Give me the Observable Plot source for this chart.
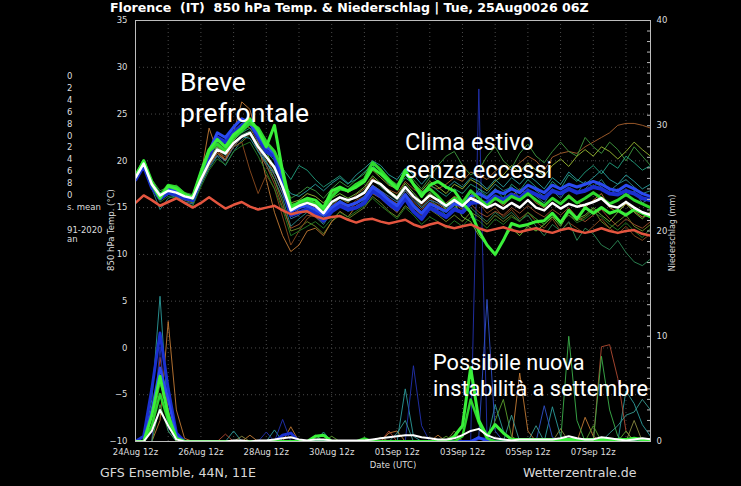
<!DOCTYPE html>
<html><head><meta charset="utf-8">
<script src="https://cdn.jsdelivr.net/npm/d3@7"></script>
<script src="https://cdn.jsdelivr.net/npm/@observablehq/plot@0.6"></script>
<style>
html,body{margin:0;padding:0;background:#000;}
#wrap{position:relative;width:741px;height:486px;background:#000;overflow:hidden;font-family:"DejaVu Sans",sans-serif;}
#wrap svg{position:absolute;left:0;top:0;}
.t{position:absolute;white-space:nowrap;color:#ddd;}
.ann{position:absolute;white-space:pre;font-family:Roboto,sans-serif;color:#fff;}
</style></head><body>
<div id="wrap"></div>
<script>
// ---------- time axis: 6-hourly steps from 24 Aug 12z ----------
const startTime = Date.UTC(2026, 7, 24, 12);
const stepHours = 6;
const xTickDays = [0, 2, 4, 6, 8, 10, 12, 14];          // labelled ticks (every 2 days, 12z)
const gridDays = [1,2,3,4,5,6,7,8,9,10,11,12,13,14,15]; // dotted daily grid
const tempTicks = [-10, -5, 0, 5, 10, 15, 20, 25, 30, 35];
const precipLabelTicks = [0, 10, 20, 30, 40];

// ---------- 850 hPa temperature (°C) ----------
const ensMean = [18.2,19.7,17.5,16.3,16.8,16.6,16.2,16.0, 18.0,19.8,21.2,20.8,21.9,22.6,23.0,21.5,
  20.4,19.3,17.2,14.7,15.2,15.5,15.2,14.4, 15.6,16.1,15.8,16.1,16.6,17.9,17.5,16.7,
  16.0,17.2,16.2,15.5,16.3,15.8,15.2,15.8, 15.2,16.0,15.6,15.0,15.4,14.9,15.5,15.0,
  15.8,15.0,14.7,15.5,14.9,15.4,15.1,15.3, 15.6,16.0,15.2,15.0,15.6,15.0,14.5,14.2];
const climMean = [15.5,16.3,15.8,15.2,15.6,16.0,15.5,15.0, 15.5,16.1,15.5,14.9,15.3,15.6,15.1,14.8,
  15.0,15.2,14.7,14.3,14.5,14.6,14.1,13.8, 14.0,14.1,13.7,13.4,13.7,13.8,13.5,13.3,
  13.5,13.7,13.2,12.9,13.2,13.4,13.0,12.8, 13.0,13.2,12.8,12.5,12.7,12.9,12.6,12.4,
  12.6,12.8,12.5,12.3,12.6,12.8,12.5,12.3, 12.5,12.8,12.5,12.3,12.5,12.6,12.2,12.0];
const greenOp = [18.3,20.0,17.5,16.0,17.3,17.0,16.3,16.2, 18.8,21.2,22.3,21.5,22.8,23.5,24.5,23.2,
  21.5,23.8,18.8,14.8,15.6,16.0,15.8,15.0, 16.8,17.2,16.8,17.2,17.8,19.2,18.6,17.8,
  17.0,19.0,17.5,16.2,17.4,17.8,17.2,16.8, 15.5,14.5,12.5,11.0,10.0,11.5,13.3,13.0,
  13.2,13.5,13.6,14.4,13.4,14.7,13.8,15.0, 14.4,15.0,14.4,14.7,14.2,14.8,14.4,14.0];
const greenCtl = [18.4,20.0,17.8,16.2,17.4,17.2,16.5,16.0, 18.6,21.0,21.8,21.0,22.5,23.2,24.0,23.5,
  22.0,21.0,19.0,15.2,15.5,15.8,15.4,14.8, 16.2,17.0,16.8,17.5,18.0,19.8,19.0,18.0,
  17.2,18.8,17.5,16.5,17.0,16.2,15.2,16.0, 15.5,16.8,16.0,15.2,16.0,15.5,16.2,15.8,
  16.5,15.8,15.2,16.0,15.4,16.2,15.5,16.0, 16.6,16.0,15.4,15.8,16.4,15.8,15.4,15.0];
const blueA = [18.0,19.5,17.2,16.0,16.6,16.4,16.0,15.8, 18.3,20.5,22.5,22.0,23.0,23.8,24.2,22.5,
  21.0,20.5,17.5,14.2,14.5,14.8,14.4,13.6, 14.6,15.2,14.8,15.0,15.5,16.8,16.2,15.4,
  14.8,16.0,14.6,13.8,15.0,14.5,14.0,14.8, 14.5,15.5,15.6,15.5,16.2,15.8,16.4,16.0,
  16.8,16.4,16.0,16.8,16.5,17.0,16.6,16.8, 17.2,17.0,16.5,16.4,16.8,16.5,16.0,15.8];
const blueB = [18.3,19.8,17.6,16.2,16.9,16.8,16.4,16.1, 18.5,21.0,23.0,22.5,23.6,24.5,24.0,22.8,
  21.5,20.8,18.5,14.6,15.0,15.2,14.8,14.2, 15.0,15.6,15.2,15.5,16.0,17.2,16.6,15.8,
  15.2,16.4,15.2,14.4,15.4,15.0,14.6,15.4, 15.2,16.2,16.5,16.0,16.8,16.5,17.0,16.6,
  17.4,17.0,16.6,17.4,17.0,17.5,17.2,17.5, 17.8,17.5,17.0,16.8,17.4,17.0,16.5,16.2];
const ens01 = [18.0,19.5,17.2,16.0,16.5,16.9,16.0,15.6, 17.8,20.2,21.5,20.0,22.5,24.0,23.5,22.0,
  20.5,18.5,16.5,14.2,14.8,15.5,15.0,14.2, 15.2,16.0,15.5,16.4,17.0,18.2,17.4,16.9,
  16.5,17.8,17.0,16.4,17.3,17.0,17.5,18.2, 17.8,18.8,18.5,18.0,18.9,19.5,19.0,19.8,
  20.5,20.0,19.0,20.4,20.8,21.0,20.8,21.5, 22.0,22.5,23.0,23.8,24.0,24.0,23.8,23.5];
const ens02 = [18.5,20.0,18.0,16.8,17.2,17.4,16.6,16.4, 18.6,20.5,22.0,21.2,23.0,24.0,24.5,23.0,
  22.0,21.0,18.5,16.0,16.5,17.2,16.8,16.0, 17.0,17.8,17.2,18.0,18.6,20.0,19.2,18.0,
  17.5,19.0,18.0,17.0,18.2,19.5,20.5,21.0, 19.5,18.5,19.0,20.5,21.5,20.0,19.2,20.8,
  21.8,20.5,19.8,21.0,22.0,21.0,20.5,22.5, 21.5,20.8,22.0,21.2,20.0,21.5,20.5,19.5];
const ens03 = [18.0,19.6,17.0,14.8,16.0,16.3,15.4,15.2, 17.5,19.2,20.5,19.5,21.0,22.2,23.0,21.0,
  19.5,18.0,16.0,13.0,13.8,14.5,14.0,13.2, 14.5,15.2,14.6,15.0,15.8,17.0,16.2,15.4,
  15.0,16.2,15.4,14.5,15.5,15.0,14.2,15.0, 14.5,15.5,17.0,16.5,17.5,16.8,17.2,16.0,
  17.0,16.2,15.5,16.8,16.0,17.2,16.5,17.8, 17.2,18.0,16.8,17.5,18.0,17.2,16.5,16.8];
const ens04 = [18.3,19.8,17.6,16.2,16.5,16.2,15.8,15.5, 17.6,19.5,20.8,20.0,21.5,22.0,22.8,21.5,
  20.0,18.0,15.5,12.5,12.8,13.5,13.0,12.2, 13.5,14.2,13.8,14.4,15.0,16.2,15.5,14.6,
  14.0,15.2,14.5,13.8,14.8,14.2,13.5,14.2, 13.5,14.5,14.0,13.2,14.2,13.5,14.2,13.5,
  14.5,13.8,13.2,14.0,13.5,14.2,13.6,14.0, 14.8,13.5,12.8,13.5,14.2,13.0,12.5,13.2];
const ens05 = [17.8,19.4,17.3,16.5,16.6,16.8,16.4,15.8, 18.4,23.5,21.0,20.0,23.0,26.3,25.5,22.0,
  18.0,14.5,12.0,10.3,11.0,12.5,12.8,12.0, 13.5,14.6,14.0,15.2,15.6,16.5,16.0,15.2,
  14.5,15.8,15.0,14.2,15.0,14.8,15.5,16.2, 15.8,16.5,15.5,15.0,16.0,15.2,16.2,17.0,
  16.5,15.5,15.0,16.0,15.5,16.4,15.6,15.0, 15.8,16.5,15.0,14.5,15.4,14.6,14.0,14.4];
const ens06 = [18.1,19.5,17.4,16.0,16.8,16.5,16.0,15.8, 17.8,19.6,21.0,20.4,21.5,22.0,19.0,16.5,
  18.5,17.0,14.0,11.0,12.5,13.8,14.5,13.6, 14.8,15.5,15.0,15.8,16.2,17.4,16.8,16.0,
  15.4,16.8,16.0,15.2,16.0,15.4,14.8,15.6, 15.0,16.2,15.5,14.4,15.0,14.0,14.8,13.8,
  14.5,13.5,12.8,13.8,12.5,13.4,12.8,12.2, 13.0,13.8,12.8,12.2,13.0,12.0,11.5,12.2];
const ens07 = [18.4,19.9,17.8,16.6,17.0,16.8,16.4,16.2, 18.2,20.0,21.6,21.0,22.2,23.0,23.5,22.5,
  21.0,20.0,19.2,18.0,19.5,19.0,18.0,17.2, 17.8,18.4,17.6,18.0,18.8,19.5,18.6,17.5,
  17.0,18.2,17.5,16.6,17.5,16.8,16.2,17.0, 16.5,17.5,17.0,16.2,17.0,16.0,17.5,16.8,
  18.0,17.2,16.5,17.8,17.0,18.5,17.8,18.8, 19.5,18.6,19.8,19.2,20.5,19.8,19.0,19.5];
const ens08 = [18.2,19.7,17.5,16.1,16.6,16.4,16.0,15.6, 17.9,19.8,21.2,20.6,22.0,22.8,23.2,21.8,
  20.6,19.5,17.0,14.0,14.5,15.0,14.8,14.0, 15.4,16.0,15.6,16.2,16.8,18.0,17.2,16.5,
  15.8,17.0,16.2,15.0,15.8,15.2,14.5,15.2, 14.4,15.0,14.2,13.5,14.5,13.8,14.5,13.6,
  14.2,13.0,12.0,13.2,12.5,13.5,11.5,12.8, 12.2,11.0,10.5,11.5,10.2,9.2,8.8,9.5];
const ens09 = [18.0,19.6,17.4,16.0,16.4,16.6,16.2,15.9, 18.2,20.6,21.8,21.2,22.6,23.5,24.0,22.8,
  21.0,19.0,17.5,15.0,15.2,15.8,15.5,14.8, 16.0,16.5,16.0,16.5,17.2,18.4,17.6,16.8,
  16.2,17.6,16.6,15.6,16.6,15.8,14.8,15.5, 14.0,13.5,12.0,11.0,10.0,11.5,12.8,12.0,
  13.0,12.5,13.2,14.0,13.0,14.5,13.8,14.2, 15.0,14.2,13.5,14.5,15.5,14.5,13.8,14.6];
const ens10 = [18.2,19.7,17.3,15.8,16.4,16.2,15.6,15.4, 17.5,19.4,20.6,20.0,21.5,22.5,23.0,21.5,
  19.8,18.5,16.5,13.8,14.2,15.0,14.6,13.8, 15.0,15.8,15.2,15.6,16.2,17.4,16.8,16.2,
  15.6,16.8,15.8,15.0,15.8,15.5,15.0,15.6, 15.0,16.0,16.8,16.0,17.0,16.4,17.2,16.5,
  17.5,16.8,16.2,17.0,16.4,17.2,16.6,17.0, 17.8,17.2,16.5,17.0,16.2,16.8,15.5,16.0];
const ens11 = [18.3,19.8,17.7,16.4,17.0,17.0,16.5,16.2, 18.5,20.2,21.5,20.8,22.2,23.2,24.2,23.0,
  21.5,20.5,18.0,15.5,15.8,16.5,16.2,15.5, 16.5,17.2,16.6,17.2,17.8,19.0,18.2,17.4,
  17.0,18.5,17.6,16.8,17.8,17.2,16.5,17.5, 17.0,18.0,17.5,16.8,17.8,18.5,19.5,18.8,
  19.8,19.0,18.4,19.5,20.2,19.4,20.5,21.2, 20.5,21.5,21.0,20.2,21.0,22.0,21.2,20.5];
const ens12 = [18.0,19.5,17.6,16.3,16.7,16.5,16.0,15.7, 17.8,19.5,20.8,20.2,21.6,22.5,23.0,21.2,
  19.5,17.5,15.0,12.8,13.2,14.2,14.0,13.4, 14.6,15.4,14.8,15.4,16.0,17.0,16.5,15.8,
  15.4,16.4,15.6,14.8,15.6,15.2,14.6,15.4, 14.8,15.4,14.5,14.0,14.6,14.2,15.0,14.4,
  15.2,14.5,14.0,14.8,14.2,15.0,14.0,13.5, 14.2,14.8,13.8,13.0,13.8,13.2,12.8,13.5];
const ens13 = [18.2,19.6,17.6,16.4,16.9,16.7,16.3,16.1, 18.0,19.9,21.4,20.6,21.8,22.6,22.4,21.0,
  19.8,18.8,17.8,16.5,16.2,16.8,17.5,16.8, 17.6,18.2,17.5,18.5,19.2,20.0,19.5,18.5,
  18.0,19.2,18.5,17.5,18.5,17.8,17.0,17.8, 17.2,18.2,17.8,17.0,18.0,17.2,18.2,17.5,
  18.5,17.8,17.0,18.2,17.5,18.8,18.0,17.5, 18.2,19.0,18.0,17.5,18.5,17.8,17.0,17.5];
const ens14 = [18.1,19.5,17.0,15.6,16.2,16.0,15.5,15.2, 17.2,19.0,20.2,19.6,21.0,21.6,22.0,20.5,
  18.8,17.0,14.8,12.0,12.5,13.0,13.5,12.8, 13.8,14.5,14.0,14.6,15.2,16.0,15.2,14.5,
  13.8,15.0,14.2,13.2,14.0,13.5,12.8,13.6, 13.0,14.0,13.6,12.8,13.8,13.2,14.0,13.5,
  14.5,13.8,13.2,14.2,13.5,14.2,13.4,13.8, 14.5,14.0,13.2,12.6,13.4,12.5,11.8,12.8];

// ---------- precipitation (mm / 6h) ----------
const prMean = [0,0,1.0,3.0,1.5,0.2,0,0, 0,0,0,0,0.1,0.1,0,0.1, 0.1,0.2,0.3,0.4,0.2,0.1,0.2,0.2, 0.1,0.1,0.1,0.1,0.1,0.2,0.3,0.4,
  0.5,0.6,0.6,0.4,0.3,0.2,0.2,0.3, 0.6,1.0,1.2,0.6,0.3,0.2,0.1,0.2, 0.2,0.2,0.2,0.2,0.3,0.5,0.3,0.2, 0.2,0.4,0.3,0.2,0.1,0.2,0.3,0.2];
const prGreenOp = [0,0,2.5,6.2,2.5,0.3,0,0, 0,0,0,0,0,0,0,0, 0,0,0,0,0,0,0.5,0.6, 0,0,0,0,0,0,0,0,
  0,0,0,0,0,0,0,0.5, 1.5,7.0,2.0,0.5,1.6,0.8,0.2,0.2, 0.2,0.2,0.2,0.2,0.2,0.2,0.2,0.2, 0.2,0.2,0.2,0.2,0.2,0.3,0.2,0.2];
const prGreenCtl = [0,0,1.5,4.5,2.0,0.3,0,0, 0,0,0,0,0,0,0,0, 0,0,0,0,0,0,0,0, 0,0,0,0,0.3,0,0,0,
  0,0,0,0,0,0,0,0, 0.5,4.0,1.8,0.3,0,0,0,0, 0,0,0,0.2,0.2,0.2,0.2,0.2, 0.2,0.2,0.2,0.2,0.2,0.2,0.2,0.2];
const prBlueA = [0,0.5,5.0,10.3,5.0,0.8,0,0, 0,0,0,0,0,0,0,0, 0,0,0.6,0.8,0,0,0,0, 0,0,0,0,0,0,0,0,
  0,0,0,0,0,0,0,0, 0,0,0.3,0.2,0,0,0,0, 0,0,0,0,0,0,0,0, 0,0,0,0,0,0,0,0];
const prBlueB = [0,0,3.0,7.0,4.0,0.5,0,0, 0,0,0,0,0,0,0,0, 0,0,0,0,0,0,0,0, 0,0,0,0,0,0,0,0,
  0,0,0,0,0,0,0,0, 0,0,0.4,0,0,0,0,0, 0,0,0,0,0,0,0,0, 0,0,0,0,0,0,0,0];
const prTeal = [0,0,4.0,13.8,2.0,0,0,0, 0,0,0,0,1.0,0,0,0, 0,1.1,0,0,0,0,0,0.9, 0,0,0,0,0,0,0,0,
  0,5.0,0.5,0,0,0,0,0, 0,0,0,0,3.5,1.0,0,0, 0,0,0,3.3,0.5,0,0,0, 0,0,0,0,4.8,3.6,1.6,0.5];
const prOrange = [0,0,0,2.0,11.4,3.0,0.3,0, 0,0,0,0,0,0,0.6,0, 0,0,0,1.4,0,0,0,0, 0,0,0,0,0,0,0,0.8,
  1.0,0,0,0,0,0.6,0,0, 0,0,0,0,0,0,0,6.5, 1.0,0,0,0,0,0,0,2.3, 0.5,0,0,0,0,0,0,0];
const prRed = [0,0,0,8.0,3.0,0,0,0, 0,0,0,0.7,0,0,0,0, 0,0,0,0,0,0,0,0, 0,0,0,0,0,0,0,1.0,
  0,0,0,0,0,0,0,0, 0,0,0,0,0,0,0,0, 0,0,0,0,0,0,0,0, 0,9.0,9.2,6.0,1.0,0,0,0];
const prNavy = [0,0,0,9.0,1.0,0,0,0, 0,0,0,0,0,0,0,0, 0.9,0,2.1,0,0,0,0,0, 0,0,0,0,0,0,0,0,
  0,0,7.2,1.5,0,0,0,0, 0,0,33.5,0.5,0,0,0,0, 0,0,0,0,0,0,0,0, 0,0,0,0,0,0,0,0];
const prBlueThin = [0,0,0,0,0,0,0,0, 0,0,0,0,0,0,0,0, 0,0,0,0,0,0,0,0, 0,0,0,0,0,0,0,0,
  0,0,0,0,0,0,0,0, 0,0,0.5,13.5,1.0,0,0,0, 0,0,3.4,0.4,0,0,0,0, 0,0,0,0,0,0,0,0];
const prGreenA = [0,0,0,3.5,1.0,0,0,0, 0,0,0,0,0,0,0,0, 0,0,0,0,0,0,0.6,0, 0,0,0,0,0,0,0,0,
  0,0,0,0,0,0,0,0, 0,0,0,0,0,0,0,0, 0,0,0,0,0,10.0,2.0,0, 0,8.1,3.0,0.5,0,0,0,0];
const prGreenB = [0,0,1.5,5.5,3.0,0,0,0, 0,0,0,0,0,0,0,0, 0,0,0,0,0,0,0,0, 0.5,0,0,0,0,0,0,0,
  0,0,0,0,0,0,0.5,0, 0,0,0,0,2.0,4.0,0.5,0, 0,0,0,0,0,0,0,0, 1.5,0,0,0,1.0,0,0,0];
const prTeal2 = [0,0,0,0,0,0,0,0, 0,0,0,0,0,0,0,0, 0,0,0,0,0,0,0,0, 0,0,0,0,0,0,0,0,
  0.8,2.0,0,0,0,0,0,0, 0,0,0,0,0,0,2.5,0, 0,1.5,0,0,0,0,0,0, 0,0,0.8,1.5,2.5,2.8,4.0,3.0];
const prOlive = [0,0,0,0,0,0,0,0, 0,0,0,0,0,0.5,0,0, 0,0,0,0,0,0,0,0, 0,0,0,0,0,0,0.4,0,
  0,0,0,0,0,0,0,1.0, 0,0,0,0,0,0,0,0, 0,0,0,0,1.2,0,0,0, 0,0,0,0,0,2.0,0,0];

// ---------- texts ----------
const titleText = "Florence  (IT)  850 hPa Temp. & Niederschlag | Tue, 25Aug0026 06Z";
const legendFragments = ["0","2","4","6","8","0","2","4","6","8","0","s. mean"];
const legendFragments2 = ["91-2020","an"];
const annotations = [
  {text: "Breve\nprefrontale", left: 180, top: 66, size: 26.5, lh: 31},
  {text: "Clima estivo\nsenza eccessi", left: 405, top: 128, size: 23.5, lh: 28},
  {text: "Possibile nuova\ninstabilità a settembre", left: 433, top: 350, size: 21.7, lh: 26}
];

// ---------- build ----------
const T = i => new Date(startTime + i * stepHours * 3600e3);
const mmToT = v => -10 + v * 45 / 40;
const tToMm = t => (t + 10) * 40 / 45;

const thin = [
  [ens01, "#a8602c"], [ens02, "#3f9a3f"], [ens03, "#2b8b8b"], [ens04, "#6f8c25"],
  [ens05, "#c27a34"], [ens06, "#8b4a1e"], [ens07, "#22a07e"], [ens08, "#2e8b57"],
  [ens09, "#74c83a"], [ens10, "#3a74b0"], [ens11, "#9aba32"], [ens12, "#a0522d"],
  [ens13, "#2aa0a0"], [ens14, "#237f23"]
];
const precipThin = [
  [prTeal, "#2b9b9b"], [prOrange, "#c27a34"], [prRed, "#b04a32"], [prNavy, "#2232b0"],
  [prBlueThin, "#3050c8"], [prGreenA, "#3cb04a"], [prGreenB, "#5a9e2c"], [prTeal2, "#3a9a90"],
  [prOlive, "#8a8a40"]
];
const line = (arr, stroke, w, yf = d => d, op = 1) =>
  Plot.line(arr, {x: (d, i) => T(i), y: yf, stroke, strokeWidth: w, strokeOpacity: op, clip: true});

const marks = [
  Plot.gridY({ticks: tempTicks.slice(1, -1), stroke: "#4a4a4a", strokeOpacity: 1, strokeDasharray: "1,3"}),
  Plot.gridX({ticks: gridDays.map(d => T(d * 4)), stroke: "#4a4a4a", strokeOpacity: 1, strokeDasharray: "1,3"}),
  ...precipThin.map(([a, c]) => line(a, c, 1, d => mmToT(d), 0.9)),
  line(prBlueA, "#1a30d0", 3, d => mmToT(d)),
  line(prBlueB, "#2a48f0", 2.5, d => mmToT(d)),
  line(prGreenCtl, "#2ed82e", 2.5, d => mmToT(d)),
  line(prGreenOp, "#3af03a", 3, d => mmToT(d)),
  line(prMean, "#ffffff", 2, d => mmToT(d)),
  ...thin.map(([a, c]) => line(a, c, 1, d => d, 0.9)),
  line(blueA, "#1a2fd0", 4),
  line(blueB, "#2a4af0", 3),
  line(greenCtl, "#2ed82e", 3),
  line(greenOp, "#3af03a", 3),
  line(climMean, "#e4553f", 2.5),
  line(ensMean, "#ffffff", 2.5),
  Plot.frame({stroke: "#bdbdbd"}),
  Plot.axisY({anchor: "left", ticks: tempTicks, tickSize: 0, tickPadding: 8, label: null}),
  Plot.axisY({anchor: "right", ticks: precipLabelTicks.map(mmToT), tickFormat: t => Math.round(tToMm(t)),
    tickSize: 0, tickPadding: 6, label: null}),
  Plot.axisY({anchor: "right", ticks: d3.range(0, 41).map(mmToT), tickFormat: () => "", tickSize: 4, dx: -4, label: null, stroke: "#bdbdbd"}),
  Plot.axisX({ticks: xTickDays.map(d => T(d * 4)), tickFormat: d3.utcFormat("%d%b %Hz"), tickSize: 0, tickPadding: 7, label: null})
];

const svg = Plot.plot({
  width: 741, height: 486,
  marginLeft: 135, marginRight: 91, marginTop: 20, marginBottom: 45,
  x: {type: "utc", domain: [T(0), T(63)]},
  y: {domain: [-10, 35]},
  style: {background: "#000", color: "#dddddd", fontFamily: "DejaVu Sans", fontSize: "8.5px"},
  marks
});
const wrap = document.getElementById("wrap");
wrap.appendChild(svg);

function addText(txt, css, cls = "t") {
  const d = document.createElement("div");
  d.className = cls;
  d.textContent = txt;
  Object.assign(d.style, css);
  wrap.appendChild(d);
  return d;
}
addText(titleText, {left: "110px", top: "1px", font: "bold 12.6px 'DejaVu Sans'", lineHeight: "13px", color: "#fff", whiteSpace: "pre"});
addText("GFS Ensemble, 44N, 11E", {left: "100px", top: "466px", fontSize: "12.6px", lineHeight: "13px", color: "#d8d8d8"});
addText("Wetterzentrale.de", {left: "523px", top: "466px", fontSize: "12.6px", lineHeight: "13px", color: "#d8d8d8"});
addText("Date (UTC)", {left: "393px", top: "461px", fontSize: "8.5px", lineHeight: "9px", transform: "translateX(-50%)"});
addText("850 hPa Temp. (°C)", {left: "111px", top: "230px", fontSize: "8.5px", lineHeight: "9px", transform: "translate(-50%,-50%) rotate(-90deg)"});
addText("Niederschlag (mm)", {left: "672px", top: "233px", fontSize: "8px", lineHeight: "9px", transform: "translate(-50%,-50%) rotate(-90deg)"});
legendFragments.forEach((s, i) => addText(s, {left: "67px", top: (71 + i * 11.9) + "px", fontSize: "8.5px", lineHeight: "10px"}));
legendFragments2.forEach((s, i) => addText(s, {left: "67px", top: (226 + i * 8.5) + "px", fontSize: "8.5px", lineHeight: "9px"}));
annotations.forEach(a => addText(a.text, {left: a.left + "px", top: a.top + "px", fontSize: a.size + "px", lineHeight: a.lh + "px"}, "ann"));
</script></body></html>
